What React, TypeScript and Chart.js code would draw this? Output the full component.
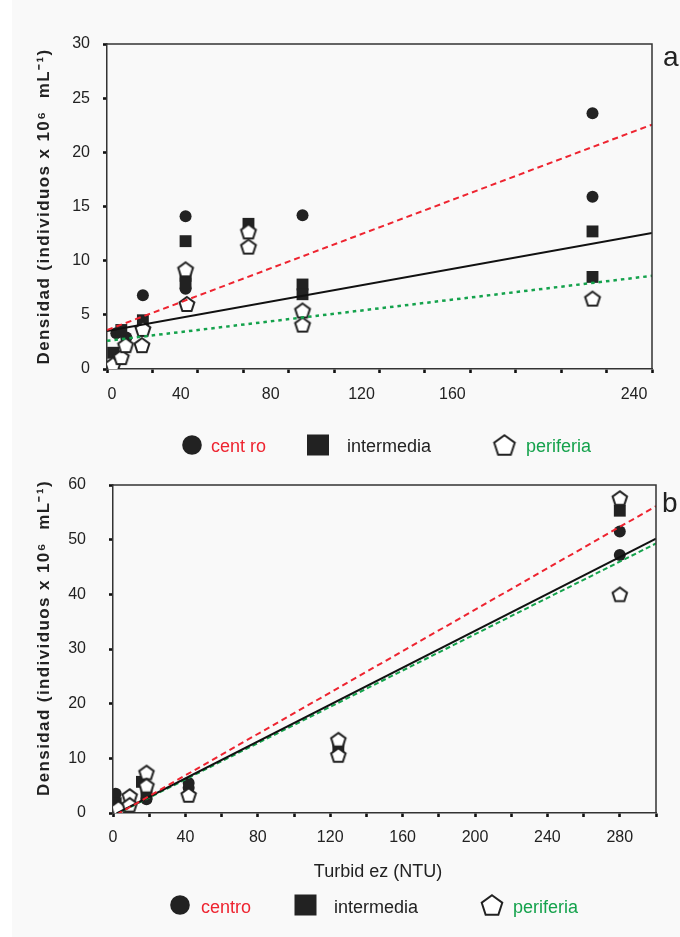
import React, { useEffect, useRef } from 'react';
import { Chart, registerables } from 'chart.js';

Chart.register(...registerables);

const FAMILY = '"Liberation Sans", Arial, Helvetica, sans-serif';
const INK = '#222222';
const AXIS = '#333333';
const RED = '#ee2430';
const GREEN = '#14a24c';

// ---------- Panel a ----------
const aCentroX = [4.1, 8.5, 15.8, 34.6, 34.6, 86.1, 213.8, 213.8];
const aCentroY = [3.3, 2.9, 6.8, 14.1, 7.4, 14.2, 23.6, 15.9];

const aInterX = [2.7, 6.3, 15.8, 34.6, 34.6, 34.6, 62.3, 86.1, 86.1, 213.8, 213.8];
const aInterY = [1.5, 3.6, 4.5, 11.8, 8.6, 7.9, 13.4, 7.8, 6.9, 12.7, 8.5];

const aPerifX = [2.6, 6.3, 8.2, 15.8, 15.4, 34.6, 35.2, 62.3, 62.3, 86.1, 86.1, 213.8];
const aPerifY = [0.4, 1.1, 2.2, 3.7, 2.2, 9.2, 6.0, 12.7, 11.3, 5.4, 4.1, 6.5];

// linear fits, order: centro, intermedia, periferia
const aFitIntercept = [3.6, 3.5, 2.6];
const aFitSlope = [0.079, 0.0377, 0.025];
const aFitRange = [0, 240];

const aXLabels = [0, 40, 80, 120, 160, 240];
const aLegendNames = ['cent ro', 'intermedia', 'periferia'];

// ---------- Panel b ----------
const bCentroX = [1.5, 18.5, 41.8, 41.8, 280, 280];
const bCentroY = [3.5, 2.5, 5.5, 4.6, 51.5, 47.2];

const bInterX = [1.5, 16, 18.5, 124.5, 280];
const bInterY = [1.8, 5.7, 3.6, 12.0, 55.3];

const bPerifX = [3, 9.2, 9.2, 18.5, 18.5, 41.8, 124.5, 124.5, 280, 280];
const bPerifY = [0.9, 3.1, 1.5, 7.4, 5.0, 3.3, 13.4, 10.6, 57.6, 40.0];

const bFitIntercept = [-0.69, -0.43, -0.5];
const bFitSlope = [0.1894, 0.1688, 0.166];
const bFitRange = [2, 300];

const bLegendNames = ['centro', 'intermedia', 'periferia'];

const yTitle = 'Densidad (individuos x 10\u2076  mL\u207B\u00B9)';
const xTitleB = 'Turbid ez (NTU)';

const pts = (xs: number[], ys: number[]) => xs.map((x, i) => ({ x, y: ys[i] }));
const fit = (a: number, b: number, r: number[]) => r.map((x) => ({ x, y: a + b * x }));

function pentagon(r: number, lw: number): HTMLCanvasElement {
  const size = Math.ceil(2 * r + lw * 2 + 2);
  const c = document.createElement('canvas');
  c.width = size;
  c.height = size;
  const g = c.getContext('2d')!;
  const cx = size / 2;
  const cy = size / 2 + r * (1 - Math.cos(Math.PI / 5)) / 2;
  g.beginPath();
  for (let k = 0; k < 5; k++) {
    const ang = -Math.PI / 2 + (k * 2 * Math.PI) / 5;
    const px = cx + r * Math.cos(ang);
    const py = cy + r * Math.sin(ang);
    if (k) g.lineTo(px, py);
    else g.moveTo(px, py);
  }
  g.closePath();
  g.fillStyle = '#ffffff';
  g.fill();
  g.lineWidth = lw;
  g.strokeStyle = INK;
  g.stroke();
  return c;
}

type LegendSpec = { y: number; baseline: number; markers: number[]; texts: number[]; names: string[] };
type Overlay = {
  letter: string;
  letterX: number;
  letterY: number;
  titleCenterDy: number;
  legend: LegendSpec;
  xLabels?: { values: number[]; shifts: number[]; baseline: number };
  xTitle?: { text: string; x: number; baseline: number };
};

function overlayPlugin(id: string, o: Overlay) {
  const pent = pentagon(10.8, 2);
  return {
    id,
    afterDraw(chart: any) {
      const ctx: any = chart.ctx;
      const { left, right, top, bottom } = chart.chartArea;
      ctx.save();
      // closing frame on top and right
      ctx.strokeStyle = AXIS;
      ctx.lineWidth = 1.5;
      ctx.beginPath();
      ctx.moveTo(left, top);
      ctx.lineTo(right, top);
      ctx.lineTo(right, bottom);
      ctx.stroke();

      // panel letter
      ctx.fillStyle = INK;
      ctx.font = `28px ${FAMILY}`;
      ctx.textAlign = 'left';
      ctx.textBaseline = 'alphabetic';
      ctx.fillText(o.letter, o.letterX, o.letterY);

      // rotated y title
      ctx.save();
      ctx.translate(44, (top + bottom) / 2 + o.titleCenterDy);
      ctx.rotate(-Math.PI / 2);
      ctx.font = `bold 17px ${FAMILY}`;
      ctx.letterSpacing = '1.4px';
      ctx.textAlign = 'center';
      ctx.textBaseline = 'middle';
      ctx.fillStyle = INK;
      ctx.fillText(yTitle, 0, 0);
      ctx.restore();

      // x tick labels drawn with per-label shift
      if (o.xLabels) {
        const xs = chart.scales.x;
        ctx.font = `16px ${FAMILY}`;
        ctx.textAlign = 'center';
        ctx.textBaseline = 'alphabetic';
        ctx.fillStyle = INK;
        o.xLabels.values.forEach((v, i) => {
          ctx.fillText(String(v), xs.getPixelForValue(v) + o.xLabels!.shifts[i], o.xLabels!.baseline);
        });
      }

      if (o.xTitle) {
        ctx.font = `18px ${FAMILY}`;
        ctx.textAlign = 'center';
        ctx.textBaseline = 'alphabetic';
        ctx.fillStyle = INK;
        ctx.fillText(o.xTitle.text, o.xTitle.x, o.xTitle.baseline);
      }

      // legend
      const L = o.legend;
      ctx.fillStyle = INK;
      ctx.beginPath();
      ctx.arc(L.markers[0], L.y, 9.8, 0, Math.PI * 2);
      ctx.fill();
      ctx.fillRect(L.markers[1] - 11, L.y - 10.5, 22, 21);
      ctx.drawImage(pent, L.markers[2] - pent.width / 2, L.y - pent.height / 2);
      ctx.font = `18px ${FAMILY}`;
      ctx.textAlign = 'left';
      ctx.textBaseline = 'alphabetic';
      const colors = [RED, INK, GREEN];
      L.names.forEach((n, i) => {
        ctx.fillStyle = colors[i];
        ctx.fillText(n, L.texts[i], L.baseline);
      });
      ctx.restore();
    },
  };
}

function datasets(
  c: { x: number; y: number }[],
  m: { x: number; y: number }[],
  p: { x: number; y: number }[],
  fits: { x: number; y: number }[][],
  pentImg: HTMLCanvasElement,
  greenDash: number[],
  greenWidth: number
) {
  return [
    {
      type: 'line',
      data: fits[0],
      showLine: true,
      borderColor: RED,
      borderWidth: 2,
      borderDash: [6, 4],
      pointRadius: 0,
      fill: false,
    },
    {
      type: 'line',
      data: fits[1],
      showLine: true,
      borderColor: '#111111',
      borderWidth: 2,
      pointRadius: 0,
      fill: false,
    },
    {
      type: 'line',
      data: fits[2],
      showLine: true,
      borderColor: GREEN,
      borderWidth: greenWidth,
      borderDash: greenDash,
      pointRadius: 0,
      fill: false,
    },
    {
      data: p,
      pointStyle: pentImg,
      pointRadius: 7.5,
      backgroundColor: '#ffffff',
      borderColor: INK,
    },
    {
      data: m,
      pointStyle: 'rect',
      pointRadius: 8.4,
      backgroundColor: INK,
      borderColor: INK,
      borderWidth: 0,
    },
    {
      data: c,
      pointStyle: 'circle',
      pointRadius: 6,
      backgroundColor: INK,
      borderColor: INK,
      borderWidth: 0,
    },
  ];
}

function axisCommon() {
  return {
    border: { display: true, color: AXIS, width: 1.5 },
    grid: {
      drawOnChartArea: false,
      drawTicks: true,
      tickLength: 4,
      tickWidth: 2.6,
      tickColor: '#111111',
    },
  };
}

// pin axis box sizes so the plot area sits exactly where the layout padding puts it
const fixY = (w: number) => (s: any) => {
  s.width = w;
  s.paddingTop = 0;
  s.paddingBottom = 0;
};
const fixX = (h: number) => (s: any) => {
  s.height = h;
  s.paddingLeft = 0;
  s.paddingRight = 0;
};

function configA(): any {
  const pent = pentagon(7.8, 2);
  return {
    type: 'scatter',
    data: {
      datasets: datasets(
        pts(aCentroX, aCentroY),
        pts(aInterX, aInterY),
        pts(aPerifX, aPerifY),
        [0, 1, 2].map((i) => fit(aFitIntercept[i], aFitSlope[i], aFitRange)),
        pent,
        [3.5, 4],
        2.5
      ),
    },
    options: {
      animation: false,
      responsive: false,
      layout: { padding: { left: 30, right: 28, top: 44, bottom: 61 } },
      plugins: { legend: { display: false }, tooltip: { enabled: false } },
      scales: {
        x: {
          type: 'linear',
          min: 0,
          max: 240,
          ...axisCommon(),
          ticks: { stepSize: 20, callback: () => '', font: { family: FAMILY, size: 16 } },
          afterFit: fixX(40),
        },
        y: {
          min: 0,
          max: 30,
          ...axisCommon(),
          ticks: { stepSize: 5, color: INK, padding: 13, font: { family: FAMILY, size: 16 } },
          afterFit: fixY(77),
        },
      },
    },
    plugins: [
      overlayPlugin('overlayA', {
        letter: 'a',
        letterX: 663,
        letterY: 66,
        titleCenterDy: 0,
        xLabels: { values: aXLabels, shifts: [5, -17, -18, -18, -18, -18], baseline: 399 },
        legend: { y: 445, baseline: 452, markers: [192, 318, 504.5], texts: [211, 347, 526], names: aLegendNames },
      }),
    ],
  };
}

function configB(): any {
  const pent = pentagon(7.6, 2);
  return {
    type: 'scatter',
    data: {
      datasets: datasets(
        pts(bCentroX, bCentroY),
        pts(bInterX, bInterY),
        pts(bPerifX, bPerifY),
        [0, 1, 2].map((i) => fit(bFitIntercept[i], bFitSlope[i], bFitRange)),
        pent,
        [5, 3],
        2
      ),
    },
    options: {
      animation: false,
      responsive: false,
      layout: { padding: { left: 30, right: 24, top: 15, bottom: 84 } },
      plugins: { legend: { display: false }, tooltip: { enabled: false } },
      scales: {
        x: {
          type: 'linear',
          min: 0,
          max: 300,
          ...axisCommon(),
          ticks: {
            stepSize: 20,
            color: INK,
            padding: 11,
            maxRotation: 0,
            autoSkip: false,
            font: { family: FAMILY, size: 16 },
            callback: (v: any) => (Number(v) % 40 === 0 ? String(v) : ''),
          },
          afterFit: fixX(40),
        },
        y: {
          min: 0,
          max: 60,
          ...axisCommon(),
          ticks: { stepSize: 10, color: INK, padding: 23, font: { family: FAMILY, size: 16 } },
          afterFit: fixY(83),
        },
      },
    },
    plugins: [
      overlayPlugin('overlayB', {
        letter: 'b',
        letterX: 662,
        letterY: 42,
        titleCenterDy: -11,
        xTitle: { text: xTitleB, x: 378, baseline: 407 },
        legend: { y: 435, baseline: 442.5, markers: [180, 305.5, 492], texts: [201, 334, 513], names: bLegendNames },
      }),
    ],
  };
}

export default function App() {
  const refA = useRef<HTMLCanvasElement>(null);
  const refB = useRef<HTMLCanvasElement>(null);

  useEffect(() => {
    document.body.style.margin = '0';
    const a = new Chart(refA.current!, configA());
    const b = new Chart(refB.current!, configB());
    return () => {
      a.destroy();
      b.destroy();
    };
  }, []);

  return (
    <div style={{ position: 'relative', width: 680, height: 937, background: '#ffffff', overflow: 'hidden' }}>
      <div style={{ position: 'absolute', left: 12, top: 0, right: 0, bottom: 0, background: '#f9f9f9' }} />
      <canvas ref={refA} width={680} height={470} style={{ position: 'absolute', left: 0, top: 0 }} />
      <canvas ref={refB} width={680} height={467} style={{ position: 'absolute', left: 0, top: 470 }} />
    </div>
  );
}
